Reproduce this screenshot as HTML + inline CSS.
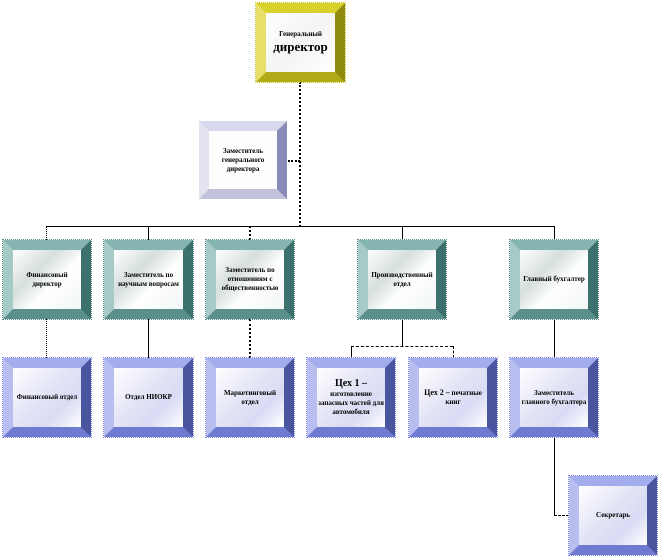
<!DOCTYPE html>
<html><head><meta charset="utf-8"><style>
body{margin:0;width:659px;height:558px;background:#fff;position:relative;overflow:hidden;font-family:"Liberation Serif",serif;}
.b{position:absolute;box-sizing:border-box;border-style:solid;border-width:10px;display:flex;align-items:center;justify-content:center;text-align:center;font-weight:bold;font-size:7px;line-height:9px;color:#000;}
.t{border-top-color:#86b5b1;border-left-color:#a6cbc7;border-right-color:#3d716d;border-bottom-color:#5b8f8b;background:linear-gradient(135deg,#fff 0%,#d6dede 35%,#fff 60%,#f2f6f6 100%);outline:1px dotted #5a8a86;}
.u{border-top-color:#a3acec;border-left-color:#b8beef;border-right-color:#4a55a0;border-bottom-color:#6f7bd0;background:linear-gradient(135deg,#fff 0%,#e3e4f6 45%,#d8dbf4 70%,#fff 100%);outline:1px dotted #7f88e0;}
.y{border-top-color:#d8d12c;border-left-color:#e6e06a;border-right-color:#8f8a10;border-bottom-color:#b2ab18;background:linear-gradient(135deg,#fff 0%,#f4f4f4 50%,#fff 100%);outline:1px dotted #c8c020;}
.g{border-top-color:#d8d8ec;border-left-color:#e2e2f0;border-right-color:#8a8ab6;border-bottom-color:#c2c2dc;background:#fdfdfd;}
.l{position:absolute;background:#000;}
.dv{position:absolute;border-left:2px dotted #000;width:0;}
.dh{position:absolute;border-top:1px dashed #000;height:0;}
</style></head><body>
<!-- lines -->
<div class="dv" style="left:299px;top:82px;height:145px"></div>
<div class="dh" style="left:288px;top:160px;width:12px;border-top:2px dotted #000"></div>
<div class="dh" style="left:47px;top:226px;width:507px;border-top:1px solid #000"></div>
<div class="dv" style="left:46px;top:226px;height:14px;border-left:1px dotted #000"></div>
<div class="l" style="left:148px;top:226px;width:1px;height:14px"></div>
<div class="dv" style="left:249px;top:226px;height:14px"></div>
<div class="l" style="left:402px;top:226px;width:1px;height:14px"></div>
<div class="l" style="left:554px;top:226px;width:1px;height:14px"></div>
<div class="dv" style="left:46px;top:319px;height:39px;border-left:1px dotted #000"></div>
<div class="l" style="left:148px;top:319px;width:1px;height:39px"></div>
<div class="dv" style="left:249px;top:319px;height:39px"></div>
<div class="l" style="left:402px;top:319px;width:1px;height:27px"></div>
<div class="dh" style="left:351px;top:346px;width:102px"></div>
<div class="l" style="left:351px;top:346px;width:1px;height:12px"></div>
<div class="dv" style="left:453px;top:346px;height:12px;border-left:1px dashed #000"></div>
<div class="l" style="left:554px;top:319px;width:1px;height:39px"></div>
<div class="l" style="left:554px;top:437px;width:1px;height:79px"></div>
<div class="dh" style="left:554px;top:515px;width:15px"></div>
<!-- boxes -->
<div class="b y" style="left:256px;top:3px;width:89px;height:79px;flex-direction:column"><div style="font-size:7px">Генеральный</div><div style="font-size:13px;line-height:16px">директор</div></div>
<div class="b g" style="left:199px;top:121px;width:88px;height:78px">Заместитель генерального директора</div>
<div class="b t" style="left:3px;top:240px;width:88px;height:79px">Финансовый директор</div>
<div class="b t" style="left:104px;top:240px;width:89px;height:79px">Заместитель по научным вопросам</div>
<div class="b t" style="left:206px;top:240px;width:88px;height:79px">Заместитель по отношениям с общественностью</div>
<div class="b t" style="left:358px;top:240px;width:88px;height:79px">Производственный отдел</div>
<div class="b t" style="left:510px;top:240px;width:88px;height:79px">Главный бухгалтер</div>
<div class="b u" style="left:3px;top:358px;width:88px;height:79px">Финансовый отдел</div>
<div class="b u" style="left:104px;top:358px;width:89px;height:79px">Отдел НИОКР</div>
<div class="b u" style="left:206px;top:358px;width:88px;height:79px">Маркетинговый отдел</div>
<div class="b u" style="left:307px;top:358px;width:88px;height:79px;font-size:7px"><div><span style="font-size:10px;line-height:12px">Цех 1 –</span><br>изготовление запасных частей для автомобиля</div></div>
<div class="b u" style="left:409px;top:358px;width:88px;height:79px"><div><span style="font-size:8px">Цех 2 –</span> печатные книг</div></div>
<div class="b u" style="left:510px;top:358px;width:88px;height:79px">Заместитель главного бухгалтера</div>
<div class="b u" style="left:569px;top:476px;width:88px;height:79px">Секретарь</div>
</body></html>
